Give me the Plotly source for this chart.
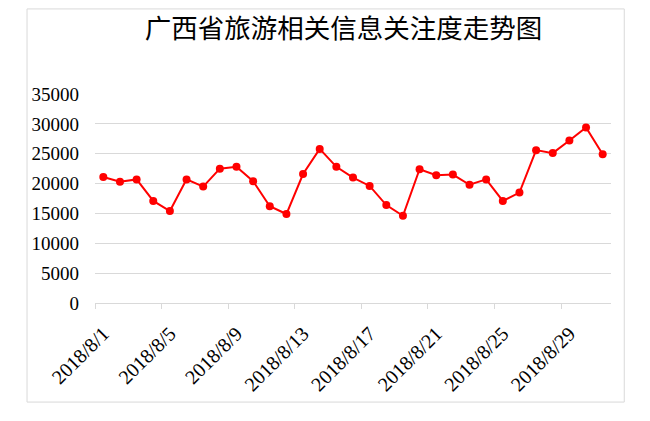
import plotly.graph_objects as go

# daily dates (Aug 2018) and attention index
dates = ['2018/8/1', '2018/8/2', '2018/8/3', '2018/8/4', '2018/8/5', '2018/8/6',
         '2018/8/7', '2018/8/8', '2018/8/9', '2018/8/10', '2018/8/11', '2018/8/12',
         '2018/8/13', '2018/8/14', '2018/8/15', '2018/8/16', '2018/8/17', '2018/8/18',
         '2018/8/19', '2018/8/20', '2018/8/21', '2018/8/22', '2018/8/23', '2018/8/24',
         '2018/8/25', '2018/8/26', '2018/8/27', '2018/8/28', '2018/8/29', '2018/8/30',
         '2018/8/31']
attention = [21100, 20300, 20700, 17100, 15400, 20700, 19500, 22500, 22800, 20400,
             16200, 14900, 21600, 25800, 22800, 21000, 19600, 16400, 14600, 22400,
             21400, 21500, 19800, 20700, 17100, 18500, 25600, 25100, 27200, 29400,
             24900]
y_ticks = [0, 5000, 10000, 15000, 20000, 25000, 30000, 35000]
y_labels = [str(v) for v in y_ticks]

title_text = '广西省旅游相关信息关注度走势图'

grey = '#d9d9d9'
serif = 'Liberation Serif'

fig = go.Figure()
fig.add_trace(go.Scatter(
    x=dates, y=attention,
    mode='lines+markers',
    line=dict(color='#ff0000', width=2),
    marker=dict(color='#ff0000', size=8),
    showlegend=False))

# page body adds an 8px offset, so margins are shifted to compensate
fig.update_layout(
    width=650, height=421,
    margin=dict(l=87, r=47, t=86, b=126),
    paper_bgcolor='white', plot_bgcolor='white',
    title=dict(text=title_text, x=0.516, y=0.951, xanchor='center', yanchor='middle',
               font=dict(family='Noto Sans CJK SC', size=26.5, color='black')),
    font=dict(family=serif, size=19, color='black'),
)

fig.update_xaxes(
    type='category',
    range=[-0.5, len(dates) - 0.5],
    tickmode='linear', tick0=0, dtick=4,
    tickson='boundaries',
    ticks='outside', ticklen=5, tickcolor=grey,
    tickangle=-45, ticklabelstandoff=10,
    showline=True, linecolor=grey, linewidth=1,
    showgrid=False, automargin=False,
    tickfont=dict(family=serif, size=20, color='black'))

fig.update_yaxes(
    range=[0, 35000],
    tickvals=y_ticks, ticktext=y_labels,
    showgrid=True, gridcolor=grey, gridwidth=1,
    zeroline=False, showline=False, automargin=False,
    ticks='', ticklabelstandoff=15,
    tickfont=dict(family=serif, size=19, color='black'))

# outer chart frame
fig.add_shape(type='rect', xref='paper', yref='paper',
              x0=-0.1317, x1=1.0257, y0=-0.474, y1=1.407,
              line=dict(color=grey, width=1), layer='below')

fig.write_html('out.html')
